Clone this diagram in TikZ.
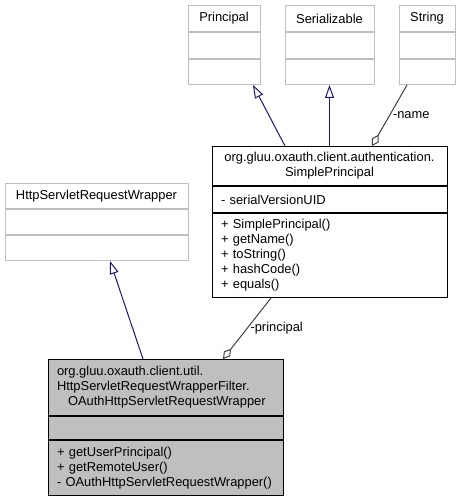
\documentclass[tikz,border=0pt]{standalone}
\usepackage{fontspec}
\setmainfont{Liberation Sans}
\usetikzlibrary{positioning,arrows.meta}
\definecolor{grey75}{HTML}{BFBFBF}
\definecolor{grey25}{HTML}{404040}
\definecolor{midnightblue}{HTML}{191970}

\begin{document}
\begin{tikzpicture}[
		x=1pt, y=-1pt
		,every node/.append style={font=\fontsize{12.9}{15}\selectfont, inner sep=0pt}
		,part/.style 2 args={draw, line width=1pt, text width=#1, minimum height=#2, inner xsep=9pt}
		,ext/.style={draw=grey75}
		,cur/.style={fill=grey75}
		,inh/.style={draw=midnightblue, line width=1pt, -{Triangle[open, length=13pt, width=9pt]}}
		,agg/.style={draw=grey25, line width=1pt, {Diamond[open, length=13pt, width=8pt]}-}
	]
	\useasboundingbox (0,0) rectangle (461,500);

	% base classes on top
	\node [part={54pt}{26pt}, ext, align=center, anchor=north] (prin) at (224,5) {Principal};
	\node [part={54pt}{26pt}, ext, below=0pt of prin] (prin-a) {};
	\node [part={54pt}{25pt}, ext, below=0pt of prin-a] (prin-m) {};

	\node [part={71pt}{26pt}, ext, align=center, anchor=north] (ser) at (329.5,5) {Serializable};
	\node [part={71pt}{26pt}, ext, below=0pt of ser] (ser-a) {};
	\node [part={71pt}{25pt}, ext, below=0pt of ser-a] (ser-m) {};

	\node [part={38pt}{26pt}, ext, align=center, anchor=north] (str) at (427,5) {String};
	\node [part={38pt}{26pt}, ext, below=0pt of str] (str-a) {};
	\node [part={38pt}{25pt}, ext, below=0pt of str-a] (str-m) {};

	% SimplePrincipal
	\node [part={217pt}{39pt}, align=center, anchor=north] (sp) at (329.5,146)
		{org.gluu.oxauth.client.authentication.\\SimplePrincipal};
	\node [part={217pt}{26pt}, align=left, below=0pt of sp] (sp-a) {- serialVersionUID};
	\node [part={217pt}{84pt}, align=left, below=0pt of sp-a] (sp-m)
		{+ SimplePrincipal()\\+ getName()\\+ toString()\\+ hashCode()\\+ equals()};

	% wrapper base
	\node [part={165pt}{25pt}, ext, align=center, anchor=north] (hsrw) at (96.5,183) {HttpServletRequestWrapper};
	\node [part={165pt}{25pt}, ext, below=0pt of hsrw] (hsrw-a) {};
	\node [part={165pt}{25pt}, ext, below=0pt of hsrw-a] (hsrw-m) {};

	% the class itself
	\node [part={217pt}{56pt}, cur, align=left, anchor=north] (oauth) at (165.5,359)
		{org.gluu.oxauth.client.util.\\HttpServletRequestWrapperFilter.\\\hspace*{11pt}OAuthHttpServletRequestWrapper};
	\node [part={217pt}{23pt}, cur, below=0pt of oauth] (oauth-a) {};
	\node [part={217pt}{55pt}, cur, align=left, below=0pt of oauth-a] (oauth-m)
		{+ getUserPrincipal()\\+ getRemoteUser()\\- OAuthHttpServletRequestWrapper()};

	% edges
	\draw [inh] ([xshift=-44.5pt]sp.north) -- ([xshift=29pt]prin-m.south);
	\draw [inh] (sp.north) -- (ser-m.south);
	\draw [agg] ([xshift=42.5pt]sp.north) -- node [midway, right=3pt] (l-name) {-name} ([xshift=-20pt]str-m.south);
	\draw [inh] ([xshift=-22.5pt]oauth.north) -- ([xshift=13.5pt]hsrw-m.south);
	\draw [agg] ([xshift=57.5pt]oauth.north) -- node [midway, right=3pt] (l-principal) {-principal} ([xshift=-58.5pt]sp-m.south);
\end{tikzpicture}
\end{document}
